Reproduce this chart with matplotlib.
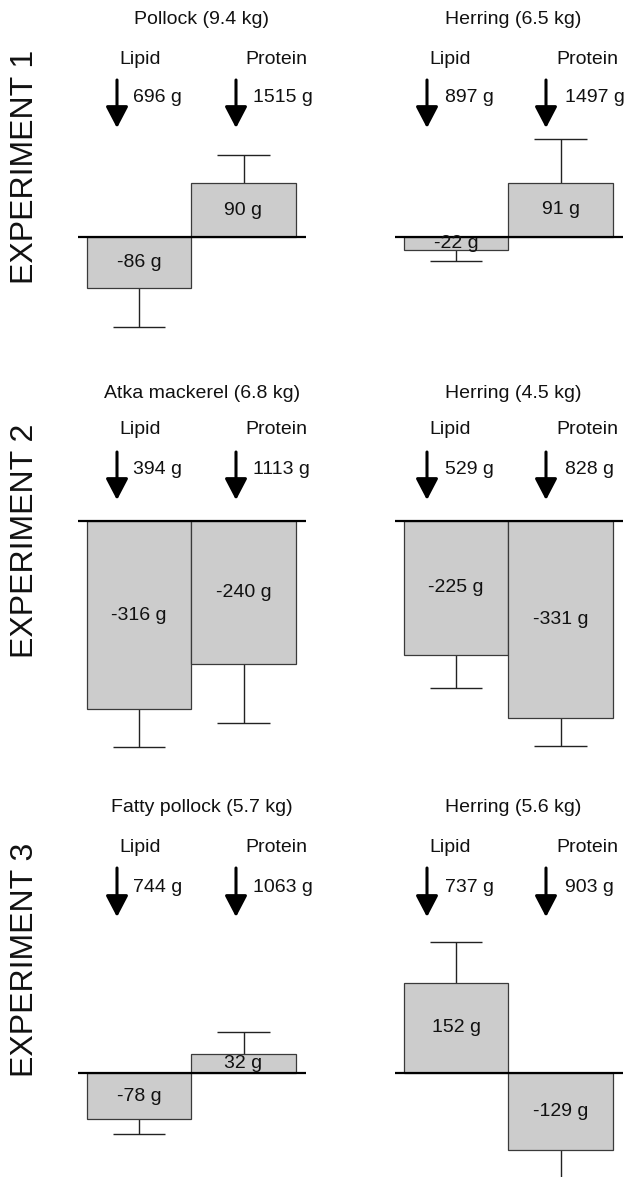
import matplotlib
matplotlib.use('Agg')
import matplotlib.pyplot as plt

plt.rcParams['font.family'] = ['Liberation Sans', 'DejaVu Sans']

# ---------------- data ----------------
experiments = ["EXPERIMENT 1", "EXPERIMENT 2", "EXPERIMENT 3"]
fish_titles = ["Pollock (9.4 kg)", "Herring (6.5 kg)",
               "Atka mackerel (6.8 kg)", "Herring (4.5 kg)",
               "Fatty pollock (5.7 kg)", "Herring (5.6 kg)"]
nutrients = ["Lipid", "Protein"]
intake_lipid = [696, 897, 394, 529, 744, 737]
intake_protein = [1515, 1497, 1113, 828, 1063, 903]
change_lipid = [-86, -22, -316, -225, -78, 152]
change_protein = [90, 91, -240, -331, 32, -129]
err_lipid = [66, 18, 64, 56, 24, 68]
err_protein = [47, 74, 100, 47, 37, 50]

# ---------------- layout (pixels) ----------------
W, H = 625, 1177
S = 0.595          # px per gram
UNIT = 104.5       # px per bar slot
lipid_center = [139, 456]
zero_px = [237, 521, 1073]
row_band = [(0, 340), (340, 760), (760, 1177)]
col_band = [(50, 325), (370, 625)]
title_x = [202, 513]
label_x = [[140, 276], [450, 587]]
arrow_x = [[117, 236], [427, 546]]
value_x = [[133, 253], [445, 565]]
title_y = [20, 393, 808]
label_y = [59, 430, 847]
arrow_top = [80, 452, 868]
arrow_tip = [128, 500, 917]
value_y = [98, 470, 887]
exp_y = [167, 541, 960]
CAP = 0.25         # half cap width in bar units

FS = 14
fig = plt.figure(figsize=(W / 100, H / 100), dpi=100)

for r in range(3):
    fig.text(25 / W, 1 - exp_y[r] / H, experiments[r], rotation=90,
             ha='center', va='center', fontsize=23, color='#111111')
    for c in range(2):
        k = r * 2 + c
        x0, x1 = col_band[c]
        y0, y1 = row_band[r]
        Lc = lipid_center[c]
        Z = zero_px[r]
        ax = fig.add_axes([x0 / W, 1 - y1 / H, (x1 - x0) / W, (y1 - y0) / H])
        ax.set_xlim((x0 - Lc) / UNIT, (x1 - Lc) / UNIT)
        ax.set_ylim((Z - y1) / S, (Z - y0) / S)
        ax.axis('off')

        def dx(px, Lc=Lc):
            return (px - Lc) / UNIT

        def dy(py, Z=Z):
            return (Z - py) / S

        vals = [change_lipid[k], change_protein[k]]
        errs = [err_lipid[k], err_protein[k]]
        intakes = [intake_lipid[k], intake_protein[k]]

        ax.bar([0, 1], vals, width=1.0, color='#cccccc',
               edgecolor='#3a3a3a', linewidth=0.9, zorder=2)
        for i, (v, e) in enumerate(zip(vals, errs)):
            end = v - e if v < 0 else v + e
            ax.vlines(i, v, end, color='#222222', lw=1.0, zorder=1, clip_on=False)
            ax.hlines(end, i - CAP, i + CAP, color='#222222', lw=1.0,
                      zorder=1, clip_on=False)
            ax.text(i, v / 2, f"{v} g", ha='center', va='center',
                    fontsize=FS, color='#111111', zorder=4)
        ax.hlines(0, -0.58, 1.6, color='black', lw=1.6, zorder=3)

        ax.text(dx(title_x[c]), dy(title_y[r]), fish_titles[k],
                ha='center', va='center', fontsize=FS, color='#111111')
        for i in range(2):
            ax.text(dx(label_x[c][i]), dy(label_y[r]), nutrients[i],
                    ha='center', va='center', fontsize=FS, color='#111111')
            ax.annotate('', xy=(dx(arrow_x[c][i]), dy(arrow_tip[r])),
                        xytext=(dx(arrow_x[c][i]), dy(arrow_top[r])),
                        arrowprops=dict(arrowstyle='-|>,head_length=1.3,head_width=0.68',
                                        lw=2.2, color='black', shrinkA=0,
                                        shrinkB=0, mutation_scale=10))
            ax.text(dx(value_x[c][i]), dy(value_y[r]), f"{intakes[i]} g",
                    ha='left', va='center', fontsize=FS, color='#111111')

fig.savefig('out.png', dpi=100)
